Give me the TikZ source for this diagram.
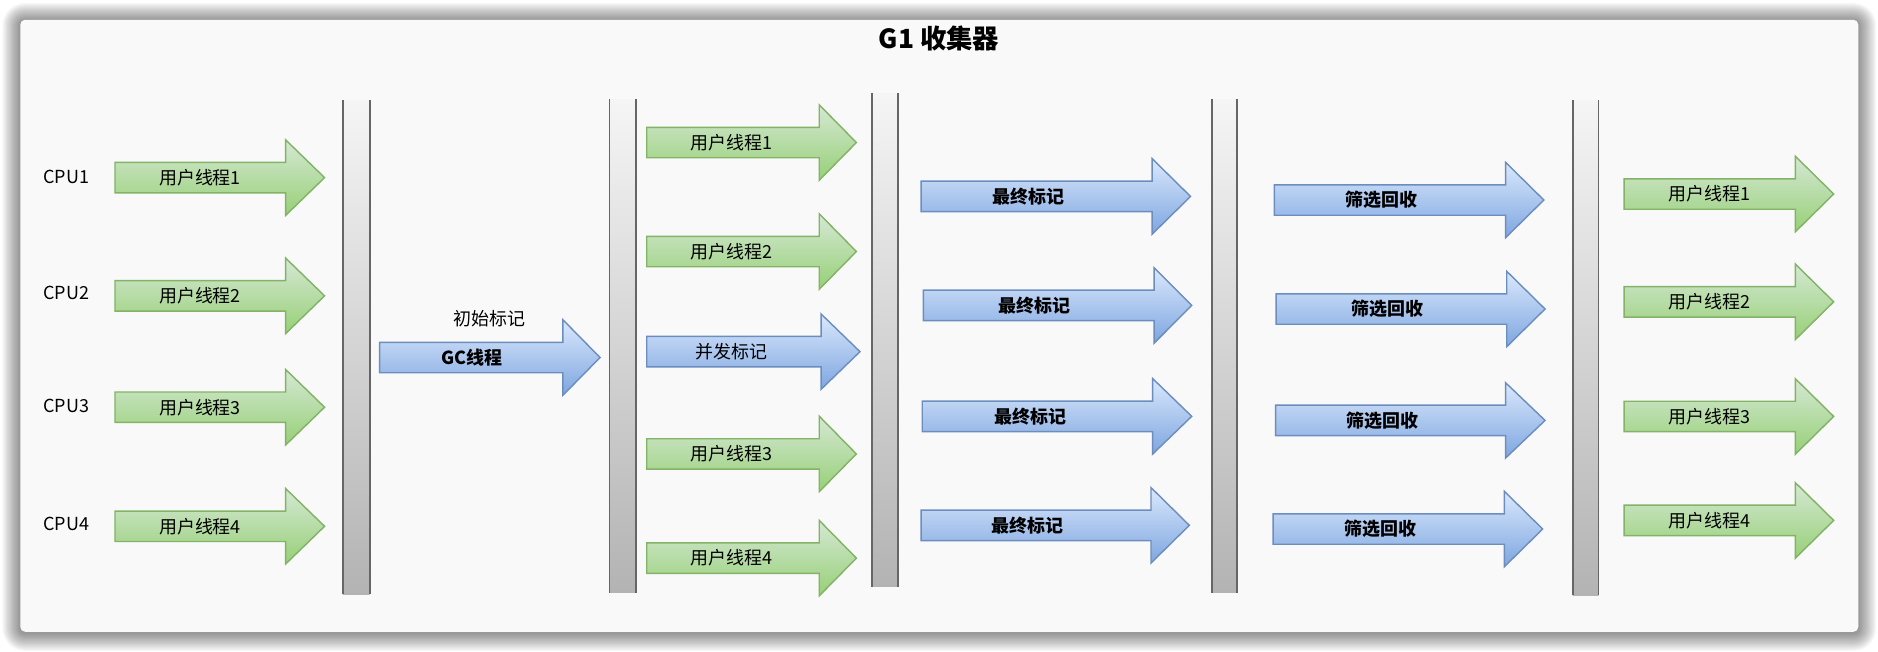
\documentclass[tikz,border=0pt]{standalone}
\usepackage{fontspec}
\setmainfont{Noto Sans CJK SC}
\definecolor{gtop}{HTML}{D5E8D4}
\definecolor{gbot}{HTML}{97D077}
\definecolor{gline}{HTML}{82B366}
\definecolor{btop}{HTML}{DAE8FC}
\definecolor{bbot}{HTML}{7EA6E0}
\definecolor{bline}{HTML}{6C8EBF}
\definecolor{bartop}{HTML}{F5F5F5}
\definecolor{barbot}{HTML}{B3B3B3}
\definecolor{barline}{HTML}{666666}
\definecolor{framefill}{HTML}{F9F9F9}
\tikzset{
  frame/.style={fill=framefill, rounded corners=4pt},
  shadowring/.style={fill=black, fill opacity=0.03},
  garr/.style={draw=gline, line width=1.2pt, top color=gtop, bottom color=gbot},
  barr/.style={draw=bline, line width=1.2pt, top color=btop, bottom color=bbot},
  lbl/.style={inner sep=0pt, font=\fontsize{15}{18}\selectfont},
  ttl/.style={inner sep=0pt, font=\fontsize{22}{26}\selectfont\bfseries},
  barnode/.style={inner sep=0pt, outer sep=0pt, top color=bartop, bottom color=barbot},
  barside/.style={draw=barline, line width=1.5pt}
}
\newcommand\fatarrow[8]{%
  \path[#1] (#3,#6-12.7) -- (#4,#6-12.7) -- (#4,#6-31.5) -- (#5,#6) -- (#4,#6+31.5) -- (#4,#6+12.7) -- (#3,#6+12.7) -- cycle;
  \node[lbl] (#2) at (#7,#6) {#8};}
\newcommand\gbar[5]{% name, x1, x2, y1, y2
  \node[barnode, minimum width=#3pt-#2pt, minimum height=#5pt-#4pt] (#1) at ({(#2+#3)/2},{(#4+#5)/2}) {};
  \draw[barside] (#1.north west) -- (#1.south west) (#1.north east) -- (#1.south east);}
\begin{document}
\begin{tikzpicture}[x=1pt,y=-1pt]
\useasboundingbox[fill=white] (0,0) rectangle (1568,544);
\foreach \i in {1,...,15} {
  \fill[shadowring, rounded corners={4pt+\i pt}] (17-\i,17.5-\i) rectangle (1551.5+\i,528.5+\i);
}
\path[frame] (17,16.5) rectangle (1551.5,527.5);
\node[ttl] (title) at (784,32) {G1 收集器};

% bars
\gbar{bar1}{286.3}{308.6}{83.5}{496}
\gbar{bar2}{508.8}{531}{83}{495}
\gbar{bar3}{728}{750}{78}{490}
\gbar{bar4}{1011.6}{1033}{83}{495}
\gbar{bar5}{1313}{1334.7}{83.5}{497}

% CPU labels
\node[lbl, anchor=west] (cpu1) at (36,147.5) {CPU1};
\node[lbl, anchor=west] (cpu2) at (36,244.4) {CPU2};
\node[lbl, anchor=west] (cpu3) at (36,339) {CPU3};
\node[lbl, anchor=west] (cpu4) at (36,437.5) {CPU4};

% column 1
\fatarrow{garr}{a1}{96}{238.5}{271}{148.3}{167}{用户线程1}
\fatarrow{garr}{a2}{96}{238.5}{271}{247}{167}{用户线程2}
\fatarrow{garr}{a3}{96}{238.5}{271}{340}{167}{用户线程3}
\fatarrow{garr}{a4}{96}{238.5}{271}{439.4}{167}{用户线程4}

% GC thread
\node[lbl] (init) at (409,266) {初始标记};
\fatarrow{barr}{gc}{317}{470}{501}{298.5}{394}{\bfseries GC线程}

% column 3
\fatarrow{garr}{c1}{540}{684}{715}{119}{611}{用户线程1}
\fatarrow{garr}{c2}{540}{684}{715}{210}{611}{用户线程2}
\fatarrow{barr}{c3}{540}{685.5}{718}{293.6}{611}{并发标记}
\fatarrow{garr}{c4}{540}{684}{715}{379}{611}{用户线程3}
\fatarrow{garr}{c5}{540}{684}{715}{466}{611}{用户线程4}

% column 4
\fatarrow{barr}{d1}{769}{962}{994}{164}{859}{\bfseries 最终标记}
\fatarrow{barr}{d2}{771}{963.6}{995}{255}{864}{\bfseries 最终标记}
\fatarrow{barr}{d3}{770}{962.4}{995}{347.6}{860}{\bfseries 最终标记}
\fatarrow{barr}{d4}{769}{961}{993}{438.6}{858}{\bfseries 最终标记}

% column 5
\fatarrow{barr}{e1}{1064}{1257}{1289}{167}{1153.6}{\bfseries 筛选回收}
\fatarrow{barr}{e2}{1065.5}{1258}{1290}{258}{1158.6}{\bfseries 筛选回收}
\fatarrow{barr}{e3}{1065}{1257}{1290}{351}{1154.5}{\bfseries 筛选回收}
\fatarrow{barr}{e4}{1063}{1256}{1288}{441.7}{1152.7}{\bfseries 筛选回收}

% column 6
\fatarrow{garr}{f1}{1356}{1499}{1531}{162}{1427}{用户线程1}
\fatarrow{garr}{f2}{1356}{1499}{1531}{252}{1427}{用户线程2}
\fatarrow{garr}{f3}{1356}{1499}{1531}{347.7}{1427}{用户线程3}
\fatarrow{garr}{f4}{1356}{1499}{1531}{434.5}{1427}{用户线程4}
\end{tikzpicture}
\end{document}
